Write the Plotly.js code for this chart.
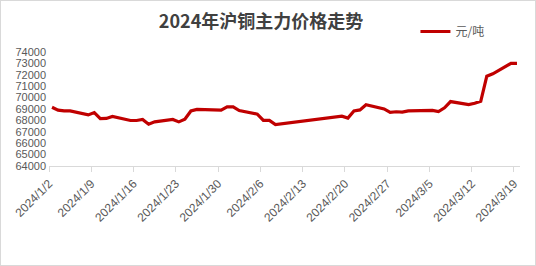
<!DOCTYPE html>
<html>
<head>
<meta charset="utf-8">
<script src="https://cdn.plot.ly/plotly-3.0.1.min.js"></script>
<style>
html,body{margin:0;padding:0;background:#fff;}
#wrap{position:relative;width:536px;height:266px;}
#chart{width:536px;height:266px;}
#frame{position:absolute;left:0;top:0;width:534px;height:264px;border:1px solid #d9d9d9;pointer-events:none;}
</style>
</head>
<body>
<div id="wrap"><div id="chart"></div><div id="frame"></div></div>
<script>
const dates = [
  "2024-01-02","2024-01-03","2024-01-04","2024-01-05",
  "2024-01-08","2024-01-09","2024-01-10","2024-01-11","2024-01-12",
  "2024-01-15","2024-01-16","2024-01-17","2024-01-18","2024-01-19",
  "2024-01-22","2024-01-23","2024-01-24","2024-01-25","2024-01-26",
  "2024-01-29","2024-01-30","2024-01-31","2024-02-01","2024-02-02",
  "2024-02-05","2024-02-06","2024-02-07","2024-02-08",
  "2024-02-19","2024-02-20","2024-02-21","2024-02-22","2024-02-23",
  "2024-02-26","2024-02-27","2024-02-28","2024-02-29","2024-03-01",
  "2024-03-04","2024-03-05","2024-03-06","2024-03-07","2024-03-08",
  "2024-03-11","2024-03-12","2024-03-13","2024-03-14","2024-03-15",
  "2024-03-18","2024-03-19"
];
const prices = [
  69150,68900,68830,68830,
  68480,68690,68160,68170,68340,
  67990,67990,68080,67660,67870,
  68080,67870,68100,68830,68970,
  68950,68900,69180,69180,68860,
  68550,68000,68000,67640,
  68370,68200,68820,68920,69370,
  69010,68700,68760,68720,68830,
  68840,68880,68780,69100,69650,
  69380,69500,69680,71880,72090,
  73000,73000
];
const tickDates = ["2024-01-02","2024-01-09","2024-01-16","2024-01-23","2024-01-30","2024-02-06",
                   "2024-02-13","2024-02-20","2024-02-27","2024-03-05","2024-03-12","2024-03-19"];
const tickLabels = ["2024/1/2","2024/1/9","2024/1/16","2024/1/23","2024/1/30","2024/2/6",
                    "2024/2/13","2024/2/20","2024/2/27","2024/3/5","2024/3/12","2024/3/19"];
const yTicks = [64000,65000,66000,67000,68000,69000,70000,71000,72000,73000,74000];
const seriesName = "元/吨";
const chartTitle = "2024年沪铜主力价格走势";

// Excel-style date axis: each day occupies a slot, tick at slot start (half a day before the point)
function shiftHalfDay(d){ const t = new Date(d+"T00:00:00Z"); t.setUTCHours(t.getUTCHours()-12);
  return t.toISOString().slice(0,19).replace("T"," "); }
const tickVals = tickDates.map(shiftHalfDay);

const trace = {
  x: dates, y: prices, type: "scatter", mode: "lines", name: seriesName,
  line: {color: "#C00000", width: 3.2, shape: "linear"}
};

const layout = {
  width: 536, height: 266,
  margin: {l: 49, r: 16, t: 52, b: 100},
  paper_bgcolor: "#ffffff", plot_bgcolor: "#ffffff",
  font: {family: "Liberation Sans, Arial, sans-serif", color: "#595959", size: 11},
  title: {text: chartTitle, x: 0.487, xref: "container", xanchor: "center",
          y: 0.92, yref: "container", yanchor: "middle",
          font: {family: "Noto Sans CJK SC, sans-serif", size: 18, color: "#404040", weight: "bold"}},
  showlegend: true,
  legend: {x: 0.778, xanchor: "left", y: 1.18, yanchor: "middle", orientation: "h",
           font: {family: "Noto Sans CJK SC, sans-serif", size: 12, color: "#595959"},
           bgcolor: "rgba(0,0,0,0)", itemwidth: 30},
  xaxis: {
    type: "date", range: [shiftHalfDay("2024-01-02"), shiftHalfDay("2024-03-20")],
    tickmode: "array", tickvals: tickVals, ticktext: tickLabels, tickangle: -45,
    showgrid: false, zeroline: false, showline: true, linecolor: "#d9d9d9", linewidth: 1,
    ticks: "outside", ticklen: 5, tickcolor: "#d9d9d9",
    tickfont: {size: 12, color: "#595959"}, fixedrange: true
  },
  yaxis: {
    range: [64000, 74000], tickmode: "array", tickvals: yTicks, ticktext: yTicks.map(String),
    showgrid: false, zeroline: false, showline: false, ticks: "",
    tickfont: {size: 11, color: "#595959"}, ticklabelstandoff: 2, fixedrange: true
  }
};

Plotly.newPlot("chart", [trace], layout, {displayModeBar: false, staticPlot: true});
</script>
</body>
</html>
